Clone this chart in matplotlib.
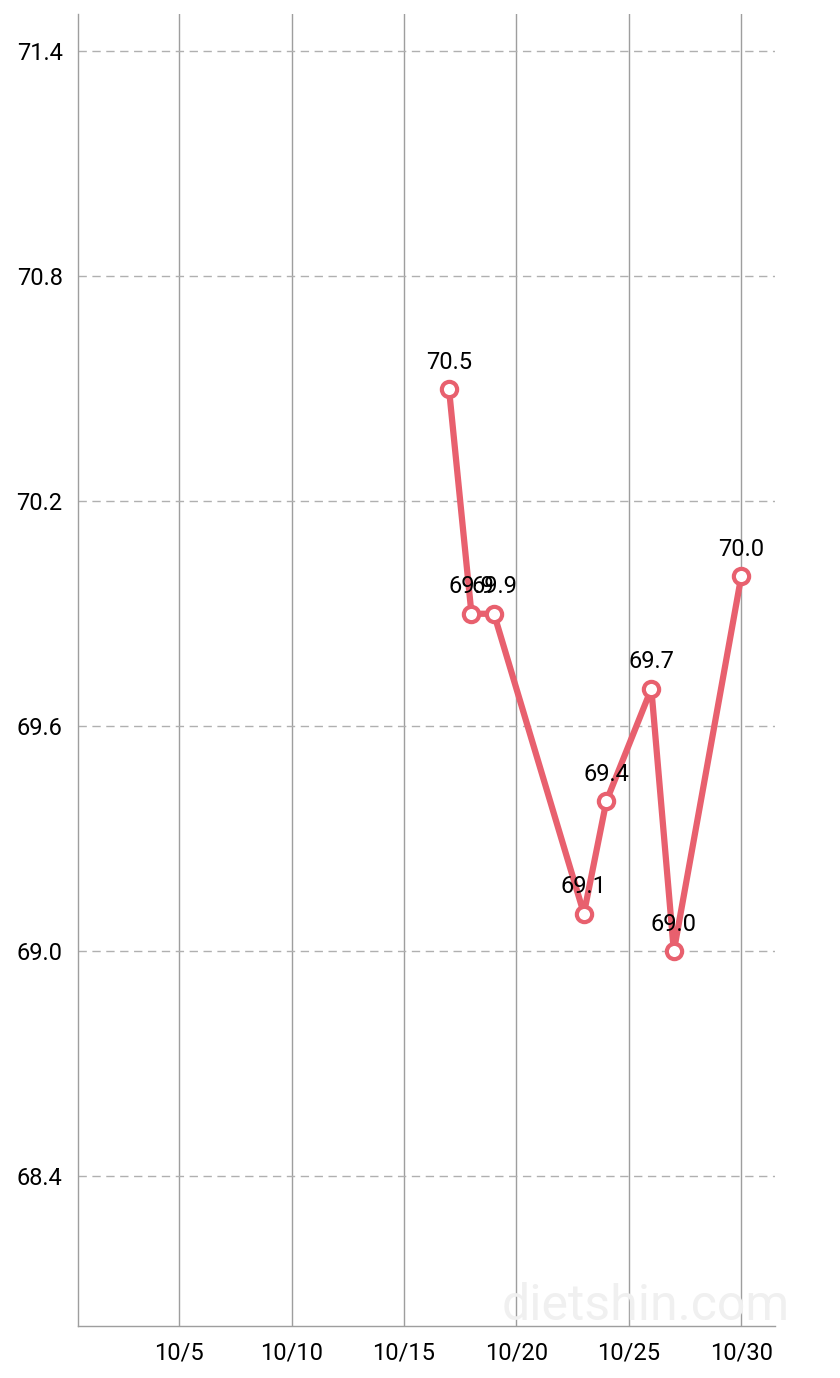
import matplotlib.pyplot as plt

# data (day of October -> weight)
days = [17, 18, 19, 23, 24, 26, 27, 30]
weights = [70.5, 69.9, 69.9, 69.1, 69.4, 69.7, 69.0, 70.0]
x_ticks = [5, 10, 15, 20, 25, 30]
x_labels = ['10/5', '10/10', '10/15', '10/20', '10/25', '10/30']
y_ticks = [68.4, 69.0, 69.6, 70.2, 70.8, 71.4]

plt.rcParams['font.family'] = ['Roboto', 'DejaVu Sans']

fig = plt.figure(figsize=(8.4, 13.78), dpi=100)
ax = fig.add_axes([78 / 840, 52 / 1378, (775 - 78) / 840, (1326 - 14) / 1378])

ax.set_xlim(0.5, 31.5)
ax.set_ylim(68.0, 71.5)

# vertical grid (solid) and horizontal grid (dashed)
for x in x_ticks:
    ax.axvline(x, color='#9e9e9e', lw=1.0, zorder=1)
for y in y_ticks:
    ax.axhline(y, color='#b0b0b0', lw=1.0, ls=(0, (6, 4)), zorder=1)

line_color = '#e8606e'
ax.plot(days, weights, color=line_color, lw=4.5, zorder=3,
        marker='o', markersize=11, markerfacecolor='white',
        markeredgecolor=line_color, markeredgewidth=3)

for x, y in zip(days, weights):
    ax.annotate(f'{y:.1f}', (x, y), xytext=(0, 11), textcoords='offset points',
                ha='center', va='bottom', fontsize=17, color='black', zorder=4)

ax.set_xticks(x_ticks)
ax.set_xticklabels(x_labels)
ax.set_yticks(y_ticks)
ax.set_yticklabels([f'{v:.1f}' for v in y_ticks])
ax.tick_params(length=0, labelsize=17, pad=11)
ax.tick_params(axis='y', pad=11)

for side in ['top', 'right']:
    ax.spines[side].set_visible(False)
for side in ['left', 'bottom']:
    ax.spines[side].set_color('#9e9e9e')
    ax.spines[side].set_linewidth(1.0)

# faint watermark
fig.text(790 / 840, 1 - 1330 / 1378, 'dietshin.com', fontsize=36, color='#f0f0f0',
         ha='right', va='bottom', zorder=0)

plt.savefig('out.png', dpi=100)
plt.close()
